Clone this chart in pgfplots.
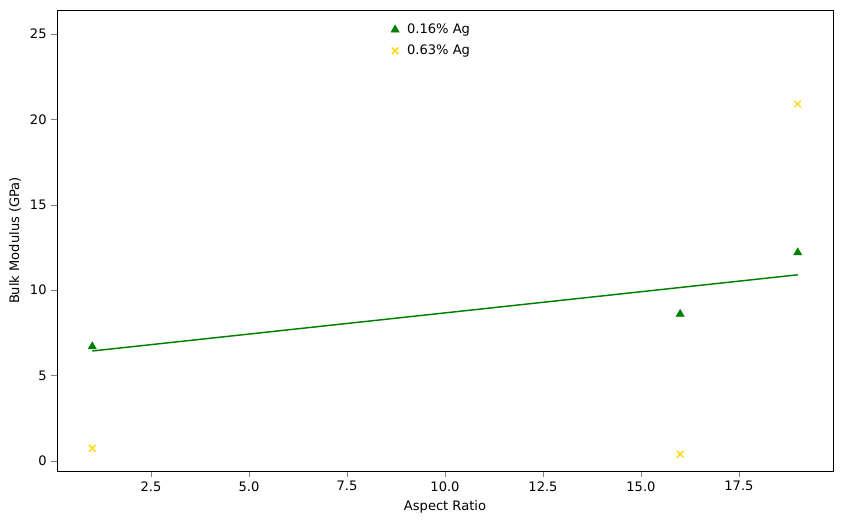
\documentclass[border=0pt]{standalone}
\usepackage{pgfplots}
\pgfplotsset{compat=1.18}
\usepackage{fontspec}
\setmainfont{DejaVu Sans}
\definecolor{mgreen}{RGB}{0,128,0}
\definecolor{mgold}{RGB}{255,215,0}
\begin{document}
\begin{tikzpicture}
\begin{axis}[
  scale only axis, width=582pt, height=345.75pt,
  xmin=0.1, xmax=19.9, ymin=-0.585, ymax=26.4,
  xtick={2.5,5,7.5,10,12.5,15,17.5},
  xticklabels={2.5,5.0,7.5,10.0,12.5,15.0,17.5},
  ytick={0,5,10,15,20,25},
  tick align=outside, tick pos=left,
  /pgf/number format/assume math mode=true,
  font=\fontsize{9.8}{12}\selectfont,
  xlabel={Aspect Ratio}, ylabel={Bulk Modulus (GPa)},
  legend style={draw=none, fill=none, at={(0.425,0.985)}, anchor=north west,
    font=\fontsize{9.8}{12}\selectfont, row sep=3pt, inner sep=3pt,
    /tikz/every even column/.append style={column sep=0pt}},
  legend image code/.code={\draw[#1] plot coordinates {(0.3cm,0cm)};},
  legend cell align=left,
  legend style={nodes={inner xsep=6pt}},
]
\addplot[only marks, mark=triangle*, mark size=3.5pt, color=mgreen] coordinates {(1,6.7) (16,8.6) (19,12.2)};
\addlegendentry{0.16\% Ag}
\addplot[only marks, mark=x, mark size=3.5pt, line width=1pt, color=mgold] coordinates {(1,0.75) (16,0.4) (19,20.9)};
\addlegendentry{0.63\% Ag}
\addplot[mgreen, line width=1.1pt, forget plot] coordinates {(1,6.44) (19,10.90)};
\end{axis}
\useasboundingbox ([xshift=-42.75pt,yshift=-40.5pt]current axis.south west) rectangle ([xshift=6pt,yshift=7.5pt]current axis.north east);
\end{tikzpicture}
\end{document}
